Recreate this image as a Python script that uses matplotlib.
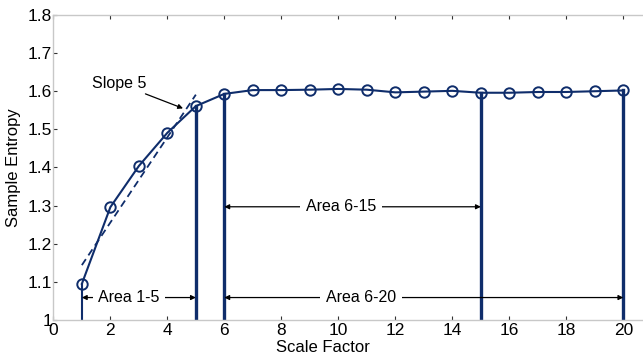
import matplotlib
matplotlib.use("Agg")
import matplotlib.pyplot as plt

plt.rcParams['font.family'] = ['Liberation Sans', 'DejaVu Sans']

# === Data ===
scale = list(range(1, 21))
entropy = [1.095, 1.296, 1.404, 1.491, 1.561, 1.593, 1.603, 1.603, 1.604, 1.606,
           1.604, 1.597, 1.599, 1.601, 1.596, 1.596, 1.598, 1.598, 1.600, 1.602]
marked = [1, 5, 6, 15, 20]
slope_x = [1, 5]
slope_y = [1.144, 1.591]
xticks = list(range(0, 21, 2))
yticks = [1.0, 1.1, 1.2, 1.3, 1.4, 1.5, 1.6, 1.7, 1.8]
ytick_labels = ['1', '1.1', '1.2', '1.3', '1.4', '1.5', '1.6', '1.7', '1.8']

navy = '#0f2d6b'

fig = plt.figure(figsize=(6.43, 3.56), dpi=100)
ax = fig.add_axes([0.083, 0.101, 0.975, 0.857])

# vertical bars at the marked scales
for s in marked:
    lw = 1.5 if s == 1 else 2.4
    ax.plot([s, s], [1.0, entropy[s - 1]], color=navy, lw=lw, zorder=2)

ax.plot(scale, entropy, color=navy, lw=1.5, marker='o', markersize=7.5,
        markerfacecolor='none', markeredgewidth=1.4, zorder=3)
ax.plot(slope_x, slope_y, color=navy, lw=1.3, ls='--', dashes=(4, 2.5), zorder=3)

arrow = dict(arrowstyle='<|-|>', color='k', lw=0.9, mutation_scale=7,
             shrinkA=0, shrinkB=0)
box = dict(facecolor='white', edgecolor='none', pad=4)

# span arrows
for x0, x1, y, tx, label in [(1, 5, 1.059, 2.65, 'Area 1-5'),
                             (6, 20, 1.059, 10.8, 'Area 6-20'),
                             (6, 15, 1.297, 10.1, 'Area 6-15')]:
    ax.annotate('', xy=(x0, y), xytext=(x1, y), arrowprops=arrow, zorder=4)
    ax.text(tx, y, label, ha='center', va='center', fontsize=11.5, bbox=box, zorder=5)

ax.annotate('Slope 5', xy=(4.55, 1.555), xytext=(3.25, 1.62),
            ha='right', va='center', fontsize=11.5,
            arrowprops=dict(arrowstyle='-|>', color='k', lw=0.9,
                            mutation_scale=7, shrinkA=0, shrinkB=0))

ax.set_xlim(0, 22)
ax.set_ylim(1.0, 1.8)
ax.set_xticks(xticks)
ax.set_yticks(yticks)
ax.set_yticklabels(ytick_labels)
ax.tick_params(direction='in', length=3, width=0.8, color='#333333',
               labelsize=12.5, top=True, right=True)
ax.tick_params(axis='y', pad=1)
ax.tick_params(axis='x', pad=2)
for sp in ax.spines.values():
    sp.set_color('#c8c8c8')
    sp.set_linewidth(1.0)

ax.set_xlabel('Scale Factor', fontsize=12)
ax.xaxis.set_label_coords(9.45 / 22, -0.066)
ax.set_ylabel('Sample Entropy', fontsize=12, labelpad=5)

fig.savefig('out.png', dpi=100)
